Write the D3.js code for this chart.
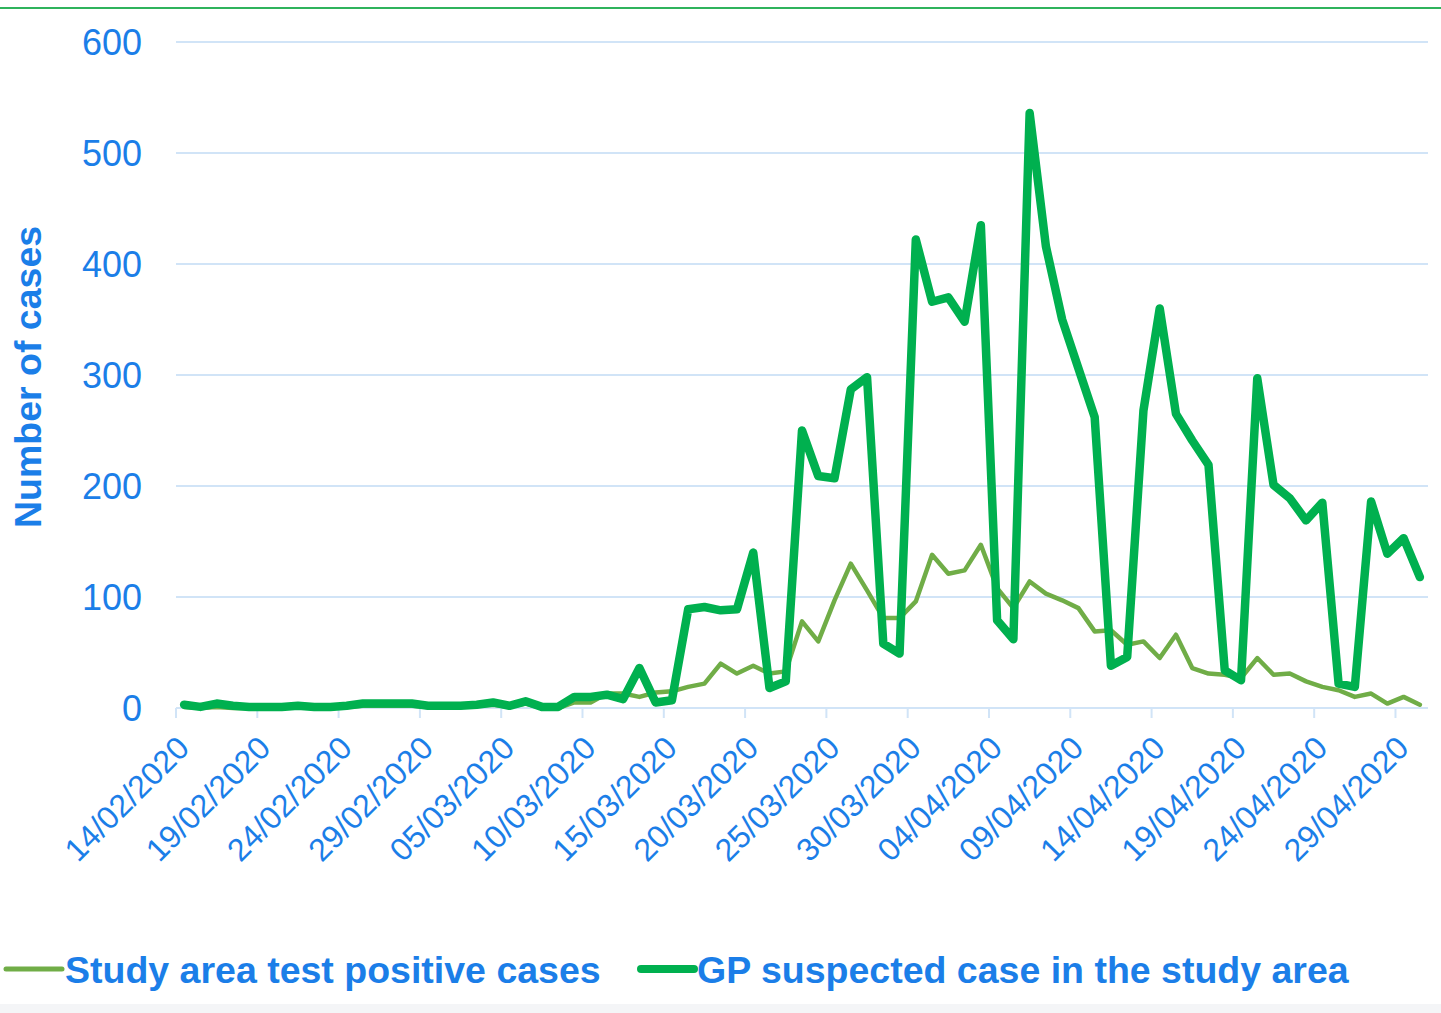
<!DOCTYPE html>
<html>
<head>
<meta charset="utf-8">
<script src="https://cdn.jsdelivr.net/npm/d3@7"></script>
<style>
  body { margin: 0; background: #fff; }
  svg { display: block; }
  text { font-family: "Liberation Sans", Arial, sans-serif; }
</style>
</head>
<body>
<div id="chart"></div>
<script>
const dates = [
  "14/02/2020","15/02/2020","16/02/2020","17/02/2020","18/02/2020","19/02/2020","20/02/2020",
  "21/02/2020","22/02/2020","23/02/2020","24/02/2020","25/02/2020","26/02/2020","27/02/2020",
  "28/02/2020","29/02/2020","01/03/2020","02/03/2020","03/03/2020","04/03/2020","05/03/2020",
  "06/03/2020","07/03/2020","08/03/2020","09/03/2020","10/03/2020","11/03/2020","12/03/2020",
  "13/03/2020","14/03/2020","15/03/2020","16/03/2020","17/03/2020","18/03/2020","19/03/2020",
  "20/03/2020","21/03/2020","22/03/2020","23/03/2020","24/03/2020","25/03/2020","26/03/2020",
  "27/03/2020","28/03/2020","29/03/2020","30/03/2020","31/03/2020","01/04/2020","02/04/2020",
  "03/04/2020","04/04/2020","05/04/2020","06/04/2020","07/04/2020","08/04/2020","09/04/2020",
  "10/04/2020","11/04/2020","12/04/2020","13/04/2020","14/04/2020","15/04/2020","16/04/2020",
  "17/04/2020","18/04/2020","19/04/2020","20/04/2020","21/04/2020","22/04/2020","23/04/2020",
  "24/04/2020","25/04/2020","26/04/2020","27/04/2020","28/04/2020","29/04/2020","30/04/2020"
];

// Study area test positive cases
const testPositive = [
  1, 0, 1, 0, 0, 0, 0, 1, 0, 0, 1, 2, 2, 2, 2, 1, 1, 1, 2, 3, 1, 4, 0, 0, 5,
  5, 13, 13, 10, 14, 15, 19, 22, 40, 31, 38, 31, 33, 78, 60, 97, 130, 106, 81, 81,
  96, 138, 121, 124, 147, 108, 90, 114, 103, 97, 90, 69, 70, 57, 60, 45, 66, 36, 31, 30,
  27, 45, 30, 31, 24, 19, 16, 10, 13, 4, 10, 3
];

// GP suspected case in the study area
const gpSuspected = [
  3, 1, 4, 2, 1, 1, 1, 2, 1, 1, 2, 4, 4, 4, 4, 2, 2, 2, 3, 5, 2, 6, 1, 1, 10,
  10, 12, 8, 36, 5, 7, 89, 91, 88, 89, 140, 18, 24, 250, 209, 207, 287, 298, 58, 49,
  422, 366, 370, 348, 435, 79, 62, 536, 416, 350, 306, 262, 38, 46, 268, 360, 265, 241, 219, 34,
  25, 297, 201, 189, 169, 185, 22, 19, 186, 139, 153, 118
];

const yTicks = [0, 100, 200, 300, 400, 500, 600];
const seriesNames = ["Study area test positive cases", "GP suspected case in the study area"];

const width = 1441, height = 1013;
const margin = { top: 42, right: 13, bottom: 305, left: 176 };
const textColor = "#1b7ee8";
const gridColor = "#d1e4f7";

const svg = d3.select("#chart").append("svg")
  .attr("width", width)
  .attr("height", height);

// page furniture
svg.append("line")
  .attr("x1", 0).attr("x2", width)
  .attr("y1", 8).attr("y2", 8)
  .attr("stroke", "#2fb35c").attr("stroke-width", 2);
svg.append("rect")
  .attr("x", 0).attr("y", 1004)
  .attr("width", width).attr("height", height - 1004)
  .attr("fill", "#f4f5f7");

const x = d3.scaleBand()
  .domain(dates)
  .range([margin.left, width - margin.right])
  .padding(0);

const y = d3.scaleLinear()
  .domain([0, 600])
  .range([height - margin.bottom, margin.top]);

const cx = d => x(d) + x.bandwidth() / 2;

// gridlines
svg.append("g")
  .selectAll("line")
  .data(yTicks)
  .join("line")
    .attr("x1", margin.left)
    .attr("x2", width - margin.right)
    .attr("y1", d => y(d))
    .attr("y2", d => y(d))
    .attr("stroke", gridColor)
    .attr("stroke-width", 2);

// y axis labels
svg.append("g")
  .selectAll("text")
  .data(yTicks)
  .join("text")
    .attr("x", 142)
    .attr("y", d => y(d))
    .attr("dy", "0.36em")
    .attr("text-anchor", "end")
    .attr("fill", textColor)
    .attr("font-size", 36)
    .text(d => d);

svg.append("text")
  .attr("transform", `translate(41,${(y(0) + y(600)) / 2 + 2}) rotate(-90)`)
  .attr("text-anchor", "middle")
  .attr("fill", textColor)
  .attr("font-size", 37.5)
  .attr("font-weight", "bold")
  .text("Number of cases");

// x axis: tick marks every 5 days, labels at category centres
const labelled = dates.filter((d, i) => i % 5 === 0);

svg.append("g")
  .selectAll("line")
  .data(labelled)
  .join("line")
    .attr("x1", d => x(d))
    .attr("x2", d => x(d))
    .attr("y1", y(0))
    .attr("y2", y(0) + 10)
    .attr("stroke", gridColor)
    .attr("stroke-width", 2);

svg.append("g")
  .selectAll("text")
  .data(labelled)
  .join("text")
    .attr("transform", d => `translate(${cx(d) + 7},${y(0) + 42}) rotate(-45)`)
    .attr("text-anchor", "end")
    .attr("fill", textColor)
    .attr("font-size", 32)
    .text(d => d);

// lines
const line = values => d3.line()
  .x((v, i) => cx(dates[i]))
  .y(v => y(v))(values);

svg.append("path")
  .attr("d", line(testPositive))
  .attr("fill", "none")
  .attr("stroke", "#70ad47")
  .attr("stroke-width", 4.5)
  .attr("stroke-linejoin", "round")
  .attr("stroke-linecap", "round");

svg.append("path")
  .attr("d", line(gpSuspected))
  .attr("fill", "none")
  .attr("stroke", "#00b04f")
  .attr("stroke-width", 8.5)
  .attr("stroke-linejoin", "round")
  .attr("stroke-linecap", "round");

// legend
const legend = svg.append("g");
const legendItems = [
  { name: seriesNames[0], x1: 6, x2: 62, tx: 65, color: "#70ad47", w: 5 },
  { name: seriesNames[1], x1: 641, x2: 694, tx: 697, color: "#00b04f", w: 8 }
];
legendItems.forEach(it => {
  legend.append("line")
    .attr("x1", it.x1).attr("x2", it.x2)
    .attr("y1", 969).attr("y2", 969)
    .attr("stroke", it.color)
    .attr("stroke-width", it.w)
    .attr("stroke-linecap", "round");
  legend.append("text")
    .attr("x", it.tx)
    .attr("y", 983)
    .attr("fill", textColor)
    .attr("font-size", 37.5)
    .attr("font-weight", "bold")
    .text(it.name);
});
</script>
</body>
</html>
